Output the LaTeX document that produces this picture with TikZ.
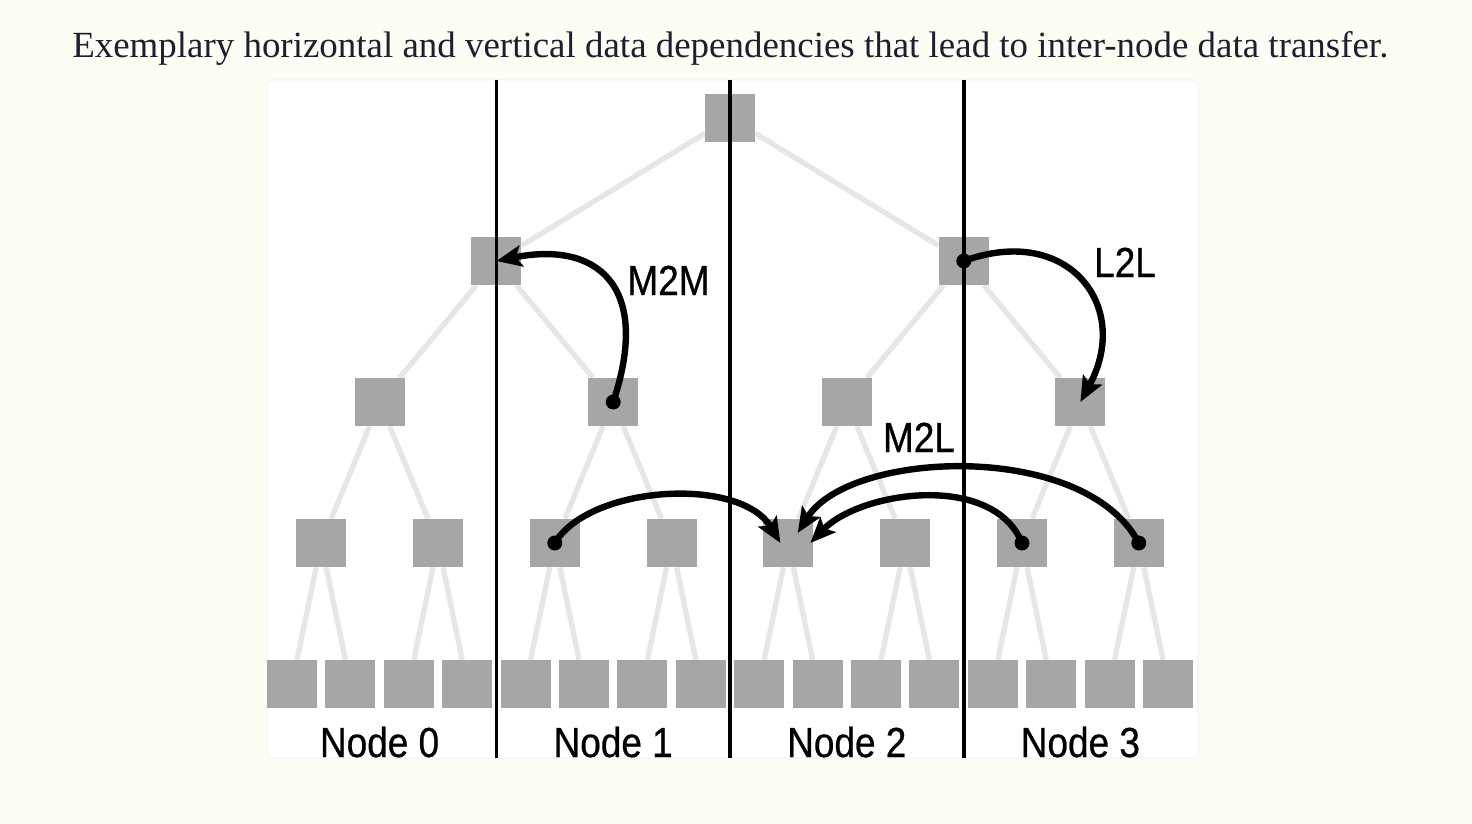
\documentclass[tikz,border=0pt]{standalone}
\usepackage{fontspec}
\setmainfont{Liberation Serif}
\newfontfamily\labelfont[FakeStretch=0.88,FakeBold=0.6]{Liberation Sans}
\usepackage{xcolor}
\usetikzlibrary{arrows.meta,backgrounds}

\definecolor{paper}{HTML}{FDFDF4}
\definecolor{boxgray}{HTML}{A6A6A6}
\definecolor{edgegray}{HTML}{E6E6E6}
\definecolor{panelline}{HTML}{EEEEEA}
\definecolor{captionink}{HTML}{1E1E30}

\begin{document}
\begin{tikzpicture}[x=0.75pt,y=-0.75pt,
  cell/.style={fill=boxgray,minimum width=37.5pt,minimum height=36pt,inner sep=0pt},
  treeedge/.style={draw=edgegray,line width=4pt},
  divider/.style={line width=2.6pt},
  dep/.style={line width=4.8pt,-{Stealth[length=19pt,width=16pt,inset=4pt]}},
  lbl/.style={font=\labelfont\fontsize{31.5}{36}\selectfont,anchor=base,inner sep=0pt}]

  % tree cells, root down to leaves
  \node[cell] (r)  at (730.1,118) {};

  \node[cell] (a1) at (496.4,261) {};
  \node[cell] (a2) at (963.8,261) {};

  \node[cell] (b1) at (379.6,402) {};
  \node[cell] (b2) at (613.2,402) {};
  \node[cell] (b3) at (846.8,402) {};
  \node[cell] (b4) at (1080.4,402) {};

  \node[cell] (c1) at (321.2,543) {};
  \node[cell] (c2) at (438.0,543) {};
  \node[cell] (c3) at (554.8,543) {};
  \node[cell] (c4) at (671.6,543) {};
  \node[cell] (c5) at (788.4,543) {};
  \node[cell] (c6) at (905.2,543) {};
  \node[cell] (c7) at (1022.0,543) {};
  \node[cell] (c8) at (1138.8,543) {};

  \node[cell] (d1)  at (292.0,684) {};
  \node[cell] (d2)  at (350.4,684) {};
  \node[cell] (d3)  at (408.8,684) {};
  \node[cell] (d4)  at (467.2,684) {};
  \node[cell] (d5)  at (525.6,684) {};
  \node[cell] (d6)  at (584.0,684) {};
  \node[cell] (d7)  at (642.4,684) {};
  \node[cell] (d8)  at (700.8,684) {};
  \node[cell] (d9)  at (759.2,684) {};
  \node[cell] (d10) at (817.6,684) {};
  \node[cell] (d11) at (876.0,684) {};
  \node[cell] (d12) at (934.4,684) {};
  \node[cell] (d13) at (992.8,684) {};
  \node[cell] (d14) at (1051.2,684) {};
  \node[cell] (d15) at (1109.6,684) {};
  \node[cell] (d16) at (1168.0,684) {};

  \begin{scope}[on background layer]
    \fill[paper] (0,0) rectangle (1472,824);
    \node[draw=panelline,fill=white,rounded corners=4pt,minimum width=698.25pt,minimum height=508.5pt] (panel) at (732.5,419) {};

    \draw[treeedge] (r) -- (a1) (r) -- (a2);
    \draw[treeedge] (a1) -- (b1) (a1) -- (b2) (a2) -- (b3) (a2) -- (b4);
    \draw[treeedge] (b1) -- (c1) (b1) -- (c2) (b2) -- (c3) (b2) -- (c4);
    \draw[treeedge] (b3) -- (c5) (b3) -- (c6) (b4) -- (c7) (b4) -- (c8);
    \draw[treeedge] (c1) -- (d1) (c1) -- (d2) (c2) -- (d3) (c2) -- (d4);
    \draw[treeedge] (c3) -- (d5) (c3) -- (d6) (c4) -- (d7) (c4) -- (d8);
    \draw[treeedge] (c5) -- (d9) (c5) -- (d10) (c6) -- (d11) (c6) -- (d12);
    \draw[treeedge] (c7) -- (d13) (c7) -- (d14) (c8) -- (d15) (c8) -- (d16);
  \end{scope}

  % node boundaries
  \draw[divider] (a1 |- panel.north) -- (a1 |- panel.south);
  \draw[divider] (r |- panel.north) -- (r |- panel.south);
  \draw[divider] (a2 |- panel.north) -- (a2 |- panel.south);

  % vertical dependencies
  \draw[dep] (b2.center) .. controls +(39,-117) and +(100,-20) .. (a1.center);
  \draw[dep] (a2.center) .. controls +(104,-38) and +(52,-96) .. (b4.center);

  % horizontal dependencies
  \coordinate (inA) at ([xshift=-6pt]c5.center);
  \coordinate (inB) at ([xshift=16.5pt]c5.center);
  \coordinate (inC) at ([xshift=7pt,yshift=7.5pt]c5.center);
  \draw[dep] (c3.center) .. controls +(35,-58) and +(-40,-67) .. (inA);
  \draw[dep] (c7.center) .. controls +(-29,-71) and +(50,-52) .. (inB);
  \draw[dep] (c8.center) .. controls +(-54,-103) and +(52,-83) .. (inC);

  \fill (b2.center) circle[radius=5.6pt];
  \fill (a2.center) circle[radius=5.6pt];
  \fill (c3.center) circle[radius=5.6pt];
  \fill (c7.center) circle[radius=5.6pt];
  \fill (c8.center) circle[radius=5.6pt];

  \node[lbl] (m2m) at (668.5,295) {M2M};
  \node[lbl] (l2l) at (1125,277) {L2L};
  \node[lbl] (m2l) at (919,452) {M2L};

  \node[lbl] (n0) at (379.6,757) {Node 0};
  \node[lbl] (n1) at (613.2,757) {Node 1};
  \node[lbl] (n2) at (846.8,757) {Node 2};
  \node[lbl] (n3) at (1080.4,757) {Node 3};

  \node[anchor=base west,inner sep=0pt,text=captionink,font=\fontsize{27.7}{32}\selectfont] (caption) at (72,58)
    {Exemplary horizontal and vertical data dependencies that lead to inter-node data transfer.};
\end{tikzpicture}
\end{document}
